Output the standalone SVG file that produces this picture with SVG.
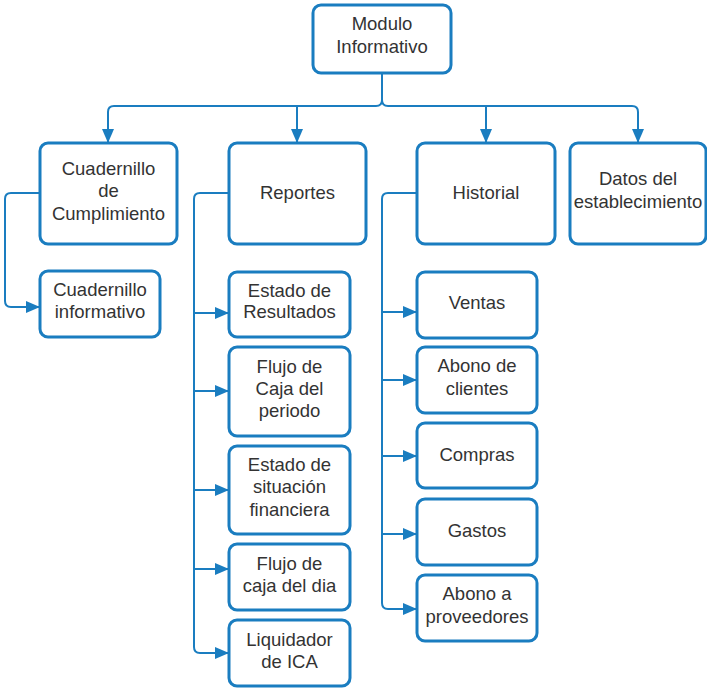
<svg xmlns="http://www.w3.org/2000/svg" width="707" height="688" viewBox="0 0 707 688">
<style>
.box{fill:#ffffff;stroke:#1a7dc0;stroke-width:3}
.ln{fill:none;stroke:#1a7dc0;stroke-width:2}
text{font-family:"Liberation Sans",Arial,sans-serif;font-size:18.5px;fill:#333333;text-anchor:middle}
</style>
<defs>
<marker id="ah" markerUnits="userSpaceOnUse" markerWidth="14" markerHeight="12" refX="13" refY="6" orient="auto">
<path d="M0,0 L14,6 L0,12 z" fill="#1a7dc0"/>
</marker>
</defs>
<rect width="707" height="688" fill="#ffffff"/>
<g id="connectors">
<path class="ln" d="M382,73 V100 Q382,106 376,106 H114 Q108,106 108,112 V142" marker-end="url(#ah)"/>
<path class="ln" d="M382,73 V100 Q382,106 388,106 H632 Q638,106 638,112 V142" marker-end="url(#ah)"/>
<path class="ln" d="M297,106 V142" marker-end="url(#ah)"/>
<path class="ln" d="M486,106 V142" marker-end="url(#ah)"/>
<path class="ln" d="M40,193 H11 Q5,193 5,199 V301 Q5,307 11,307 H39" marker-end="url(#ah)"/>
<path class="ln" d="M229,193 H200 Q194,193 194,199 V647 Q194,653 200,653 H228" marker-end="url(#ah)"/>
<path class="ln" d="M194,313 H228" marker-end="url(#ah)"/>
<path class="ln" d="M194,391 H228" marker-end="url(#ah)"/>
<path class="ln" d="M194,490 H228" marker-end="url(#ah)"/>
<path class="ln" d="M194,569 H228" marker-end="url(#ah)"/>
<path class="ln" d="M417,193 H388 Q382,193 382,199 V603 Q382,609 388,609 H416" marker-end="url(#ah)"/>
<path class="ln" d="M382,312 H416" marker-end="url(#ah)"/>
<path class="ln" d="M382,380 H416" marker-end="url(#ah)"/>
<path class="ln" d="M382,456 H416" marker-end="url(#ah)"/>
<path class="ln" d="M382,534 H416" marker-end="url(#ah)"/>
</g>
<g id="modulo"><rect class="box" x="313" y="5" width="138" height="68" rx="8"/><text x="382" y="30">Modulo</text><text x="382" y="53">Informativo</text></g>
<g id="cuadernillo-cumplimiento"><rect class="box" x="40" y="143" width="137" height="101" rx="8"/><text x="108.5" y="175">Cuadernillo</text><text x="108.5" y="197">de</text><text x="108.5" y="220">Cumplimiento</text></g>
<g id="reportes"><rect class="box" x="229" y="143" width="137" height="101" rx="8"/><text x="297.5" y="199">Reportes</text></g>
<g id="historial"><rect class="box" x="417" y="143" width="138" height="101" rx="8"/><text x="486" y="199">Historial</text></g>
<g id="datos"><rect class="box" x="570" y="143" width="136" height="101" rx="8"/><text x="638" y="185">Datos del</text><text x="638" y="208">establecimiento</text></g>
<g id="cuadernillo-informativo"><rect class="box" x="40" y="271" width="120" height="66" rx="8"/><text x="100" y="296">Cuadernillo</text><text x="100" y="318">informativo</text></g>
<g id="estado-resultados"><rect class="box" x="229" y="272" width="121" height="65" rx="8"/><text x="289.5" y="297">Estado de</text><text x="289.5" y="318">Resultados</text></g>
<g id="flujo-periodo"><rect class="box" x="229" y="347" width="121" height="89" rx="8"/><text x="289.5" y="373">Flujo de</text><text x="289.5" y="395">Caja del</text><text x="289.5" y="417">periodo</text></g>
<g id="estado-situacion"><rect class="box" x="229" y="446" width="121" height="88" rx="8"/><text x="289.5" y="471">Estado de</text><text x="289.5" y="493">situación</text><text x="289.5" y="516">financiera</text></g>
<g id="flujo-dia"><rect class="box" x="229" y="544" width="121" height="66" rx="8"/><text x="289.5" y="570">Flujo de</text><text x="289.5" y="592">caja del dia</text></g>
<g id="liquidador"><rect class="box" x="229" y="620" width="121" height="66" rx="8"/><text x="289.5" y="646">Liquidador</text><text x="289.5" y="668">de ICA</text></g>
<g id="ventas"><rect class="box" x="417" y="272" width="120" height="66" rx="8"/><text x="477" y="309">Ventas</text></g>
<g id="abono-clientes"><rect class="box" x="417" y="347" width="120" height="66" rx="8"/><text x="477" y="372">Abono de</text><text x="477" y="395">clientes</text></g>
<g id="compras"><rect class="box" x="417" y="423" width="120" height="65" rx="8"/><text x="477" y="461">Compras</text></g>
<g id="gastos"><rect class="box" x="417" y="499" width="120" height="66" rx="8"/><text x="477" y="537">Gastos</text></g>
<g id="abono-proveedores"><rect class="box" x="417" y="575" width="120" height="66" rx="8"/><text x="477" y="600">Abono a</text><text x="477" y="623">proveedores</text></g>
</svg>
